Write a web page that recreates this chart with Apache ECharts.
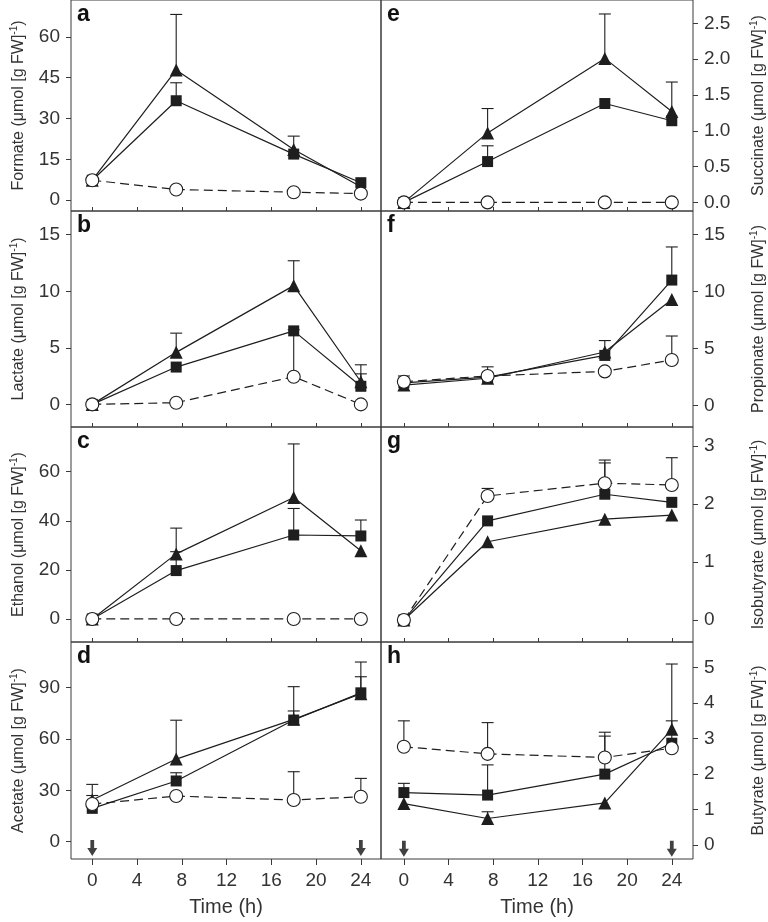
<!DOCTYPE html>
<html>
<head>
<meta charset="utf-8">
<script src="https://cdn.jsdelivr.net/npm/echarts@6/dist/echarts.min.js"></script>
<style>
  html, body { margin: 0; padding: 0; background: #fff; }
  #chart { width: 768px; height: 922px; }
</style>
</head>
<body>
<div id="chart"></div>
<script>
// sampling times (h)
const times = [0, 7.5, 18, 24];
const xTicks = [0, 4, 8, 12, 16, 20, 24];
const arrowTimes = [0, 24];

// a - formate
const formateTri = [7.3, 47.8, 18.6, 4.9];
const formateTriErr = [null, 68.2, 23.5, null];
const formateSq = [7.3, 36.5, 16.9, 6.4];
const formateSqErr = [null, 43.1, null, null];
const formateCirc = [7.3, 3.9, 2.9, 2.4];
const formateCircErr = [null, null, null, null];
const formateTicks = [0, 15, 30, 45, 60];

// b - lactate
const lactateTri = [0, 4.6, 10.5, 2.0];
const lactateTriErr = [null, 6.3, 12.7, 3.5];
const lactateSq = [0, 3.3, 6.5, 1.6];
const lactateSqErr = [null, null, null, 2.7];
const lactateCirc = [0, 0.15, 2.45, 0];
const lactateCircErr = [null, null, 6.6, null];
const lactateTicks = [0, 5, 10, 15];

// c - ethanol
const ethanolTri = [0, 26.5, 49.5, 27.8];
const ethanolTriErr = [null, 37, 71.3, null];
const ethanolSq = [0, 19.7, 34.2, 33.8];
const ethanolSqErr = [null, 27.4, 45, 40.3];
const ethanolCirc = [0, 0, 0, 0];
const ethanolCircErr = [null, null, null, null];
const ethanolTicks = [0, 20, 40, 60];

// d - acetate
const acetateTri = [24.4, 48.3, 71.5, 86.5];
const acetateTriErr = [33.5, 71, 90.6, 105];
const acetateSq = [19.5, 35.5, 71.1, 87];
const acetateSqErr = [null, 40.3, 76.4, 96.4];
const acetateCirc = [22, 26.7, 24.4, 26.3];
const acetateCircErr = [27, null, 40.9, 37];
const acetateTicks = [0, 30, 60, 90];

// e - succinate
const succinateTri = [0, 0.97, 2.01, 1.27];
const succinateTriErr = [null, 1.31, 2.63, 1.68];
const succinateSq = [0, 0.57, 1.38, 1.14];
const succinateSqErr = [null, 0.79, null, null];
const succinateCirc = [0, 0, 0, 0];
const succinateCircErr = [null, null, null, null];
const succinateTicks = [0, 0.5, 1, 1.5, 2, 2.5];

// f - propionate
const propionateTri = [1.8, 2.4, 4.7, 9.3];
const propionateTriErr = [null, null, 5.7, null];
const propionateSq = [2.0, 2.5, 4.4, 11.0];
const propionateSqErr = [null, null, null, 13.9];
const propionateCirc = [2.1, 2.6, 3.0, 4.0];
const propionateCircErr = [2.6, 3.4, null, 6.1];
const propionateTicks = [0, 5, 10, 15];

// g - isobutyrate
const isobutyrateTri = [0, 1.35, 1.74, 1.81];
const isobutyrateTriErr = [null, null, null, null];
const isobutyrateSq = [0, 1.71, 2.17, 2.03];
const isobutyrateSqErr = [null, null, 2.76, null];
const isobutyrateCirc = [0, 2.14, 2.36, 2.33];
const isobutyrateCircErr = [null, 2.27, 2.71, 2.8];
const isobutyrateTicks = [0, 1, 2, 3];

// h - butyrate
const butyrateTri = [1.17, 0.75, 1.19, 3.26];
const butyrateTriErr = [null, 0.94, null, 5.1];
const butyrateSq = [1.48, 1.41, 2.0, 2.87];
const butyrateSqErr = [1.74, 2.26, 3.18, 3.5];
const butyrateCirc = [2.77, 2.57, 2.47, 2.73];
const butyrateCircErr = [3.5, 3.45, 3.07, null];
const butyrateTicks = [0, 1, 2, 3, 4, 5];

const FONT = '"Liberation Sans", Arial, sans-serif';
const INK = '#1e1e1e';

// layout of the 4x2 panel grid (pixels)
const rows = [{ top: 0, h: 211 }, { top: 211, h: 216 }, { top: 427, h: 215 }, { top: 642, h: 217 }];
const cols = [
    { left: 71, w: 310, xmin: -1.9, xmax: 25.8 },
    { left: 381, w: 312, xmin: -2.05, xmax: 25.9 }
];

const panels = [
    { col: 0, row: 0, letter: 'a', name: 'Formate', min: -4, max: 73.5, ticks: formateTicks,
      tri: formateTri, triErr: formateTriErr, sq: formateSq, sqErr: formateSqErr, circ: formateCirc, circErr: formateCircErr },
    { col: 0, row: 1, letter: 'b', name: 'Lactate', min: -2, max: 17.1, ticks: lactateTicks,
      tri: lactateTri, triErr: lactateTriErr, sq: lactateSq, sqErr: lactateSqErr, circ: lactateCirc, circErr: lactateCircErr },
    { col: 0, row: 2, letter: 'c', name: 'Ethanol', min: -9.4, max: 78.2, ticks: ethanolTicks,
      tri: ethanolTri, triErr: ethanolTriErr, sq: ethanolSq, sqErr: ethanolSqErr, circ: ethanolCirc, circErr: ethanolCircErr },
    { col: 0, row: 3, letter: 'd', name: 'Acetate', min: -10.1, max: 116.7, ticks: acetateTicks, arrowY: -3.7,
      tri: acetateTri, triErr: acetateTriErr, sq: acetateSq, sqErr: acetateSqErr, circ: acetateCirc, circErr: acetateCircErr },
    { col: 1, row: 0, letter: 'e', name: 'Succinate', min: -0.12, max: 2.825, ticks: succinateTicks, dec: 1,
      tri: succinateTri, triErr: succinateTriErr, sq: succinateSq, sqErr: succinateSqErr, circ: succinateCirc, circErr: succinateCircErr },
    { col: 1, row: 1, letter: 'f', name: 'Propionate', min: -1.87, max: 17.05, ticks: propionateTicks,
      tri: propionateTri, triErr: propionateTriErr, sq: propionateSq, sqErr: propionateSqErr, circ: propionateCirc, circErr: propionateCircErr },
    { col: 1, row: 2, letter: 'g', name: 'Isobutyrate', min: -0.38, max: 3.33, ticks: isobutyrateTicks,
      tri: isobutyrateTri, triErr: isobutyrateTriErr, sq: isobutyrateSq, sqErr: isobutyrateSqErr, circ: isobutyrateCirc, circErr: isobutyrateCircErr },
    { col: 1, row: 3, letter: 'h', name: 'Butyrate', min: -0.39, max: 5.72, ticks: butyrateTicks, arrowY: -0.1,
      tri: butyrateTri, triErr: butyrateTriErr, sq: butyrateSq, sqErr: butyrateSqErr, circ: butyrateCirc, circErr: butyrateCircErr }
];

function pairs(vals) {
    return times.map((t, i) => [t, vals[i]]);
}
function errPairs(vals, tops) {
    let out = [];
    times.forEach((t, i) => {
        if (tops[i] != null) out.push([t, vals[i], tops[i]]);
    });
    return out;
}

// upper error bar with a cap
function renderErr(params, api) {
    let x = api.value(0);
    let p0 = api.coord([x, api.value(1)]);
    let p1 = api.coord([x, api.value(2)]);
    let w = 6;
    let st = { stroke: INK, lineWidth: 1.1 };
    return {
        type: 'group',
        children: [
            { type: 'line', shape: { x1: p0[0], y1: p0[1], x2: p1[0], y2: p1[1] }, style: st },
            { type: 'line', shape: { x1: p1[0] - w, y1: p1[1], x2: p1[0] + w, y2: p1[1] }, style: st }
        ]
    };
}

const ARROW = 'path://M2.5,0 L5.5,0 L5.5,7 L8,7 L4,14 L0,7 L2.5,7 Z';

let grid = [], xAxis = [], yAxis = [], series = [], graphic = [];

panels.forEach((p, i) => {
    let c = cols[p.col], r = rows[p.row];
    let bottom = p.row === 3;
    let right = p.col === 1;
    grid.push({
        left: c.left, top: r.top, width: c.w, height: r.h,
        show: true, borderColor: '#3a3a3a', borderWidth: 1, backgroundColor: 'transparent'
    });
    xAxis.push({
        gridIndex: i, type: 'value', min: c.xmin, max: c.xmax, position: 'bottom',
        splitLine: { show: false },
        axisLine: { show: false, onZero: false },
        axisTick: { show: true, inside: !bottom, length: bottom ? 6 : 4, customValues: xTicks, lineStyle: { color: '#3a3a3a' } },
        axisLabel: { show: bottom, customValues: xTicks, margin: 12, fontSize: 19, color: '#333', fontFamily: FONT },
        name: bottom ? 'Time (h)' : '',
        nameLocation: 'middle', nameGap: 38,
        nameTextStyle: { fontSize: 20, color: '#333', fontFamily: FONT }
    });
    yAxis.push({
        gridIndex: i, type: 'value', min: p.min, max: p.max,
        position: right ? 'right' : 'left',
        splitLine: { show: false },
        axisLine: { show: false, onZero: false },
        axisTick: { show: true, length: 5, customValues: p.ticks, lineStyle: { color: '#3a3a3a' } },
        axisLabel: {
            customValues: p.ticks, margin: 11, fontSize: 19, color: '#333', fontFamily: FONT,
            formatter: v => p.dec ? v.toFixed(p.dec) : String(v)
        },
        name: p.name + ' (μmol [g FW]{sup|-1})',
        nameLocation: 'middle', nameRotate: 90,
        nameGap: right ? 56 : 43,
        nameTextStyle: {
            fontSize: 16, color: '#333', fontFamily: FONT,
            rich: { sup: { fontSize: 10, color: '#333', fontFamily: FONT, padding: [0, 0, 9, 0] } }
        }
    });

    let groups = [
        { vals: p.tri, tops: p.triErr },
        { vals: p.sq, tops: p.sqErr },
        { vals: p.circ, tops: p.circErr }
    ];
    groups.forEach(g => {
        series.push({
            type: 'custom', xAxisIndex: i, yAxisIndex: i,
            renderItem: renderErr, encode: { x: 0, y: [1, 2] },
            data: errPairs(g.vals, g.tops), silent: true, z: 1
        });
    });

    series.push({
        type: 'line', xAxisIndex: i, yAxisIndex: i, data: pairs(p.tri),
        symbol: 'triangle', symbolSize: 13, z: 2,
        lineStyle: { color: INK, width: 1.2 },
        itemStyle: { color: INK, borderWidth: 0 }
    });
    series.push({
        type: 'line', xAxisIndex: i, yAxisIndex: i, data: pairs(p.sq),
        symbol: 'rect', symbolSize: 11, z: 3,
        lineStyle: { color: INK, width: 1.2 },
        itemStyle: { color: INK, borderWidth: 0 }
    });
    series.push({
        type: 'line', xAxisIndex: i, yAxisIndex: i, data: pairs(p.circ),
        symbol: 'circle', symbolSize: 13, z: 4,
        lineStyle: { color: INK, width: 1.2, type: [9, 5] },
        itemStyle: { color: '#fff', borderColor: INK, borderWidth: 1.1 }
    });

    if (p.arrowY != null) {
        series.push({
            type: 'scatter', xAxisIndex: i, yAxisIndex: i,
            data: arrowTimes.map(t => [t, p.arrowY]),
            symbol: ARROW, symbolSize: [10, 16], z: 5,
            itemStyle: { color: '#111' }, silent: true
        });
    }

    graphic.push({
        type: 'text', left: c.left + 6, top: r.top + 3,
        style: { text: p.letter, font: 'bold 23px ' + FONT, fill: '#111' }
    });
});

let chart = echarts.init(document.getElementById('chart'));
chart.setOption({
    animation: false,
    textStyle: { fontFamily: FONT },
    grid, xAxis, yAxis, series, graphic
});
</script>
</body>
</html>
